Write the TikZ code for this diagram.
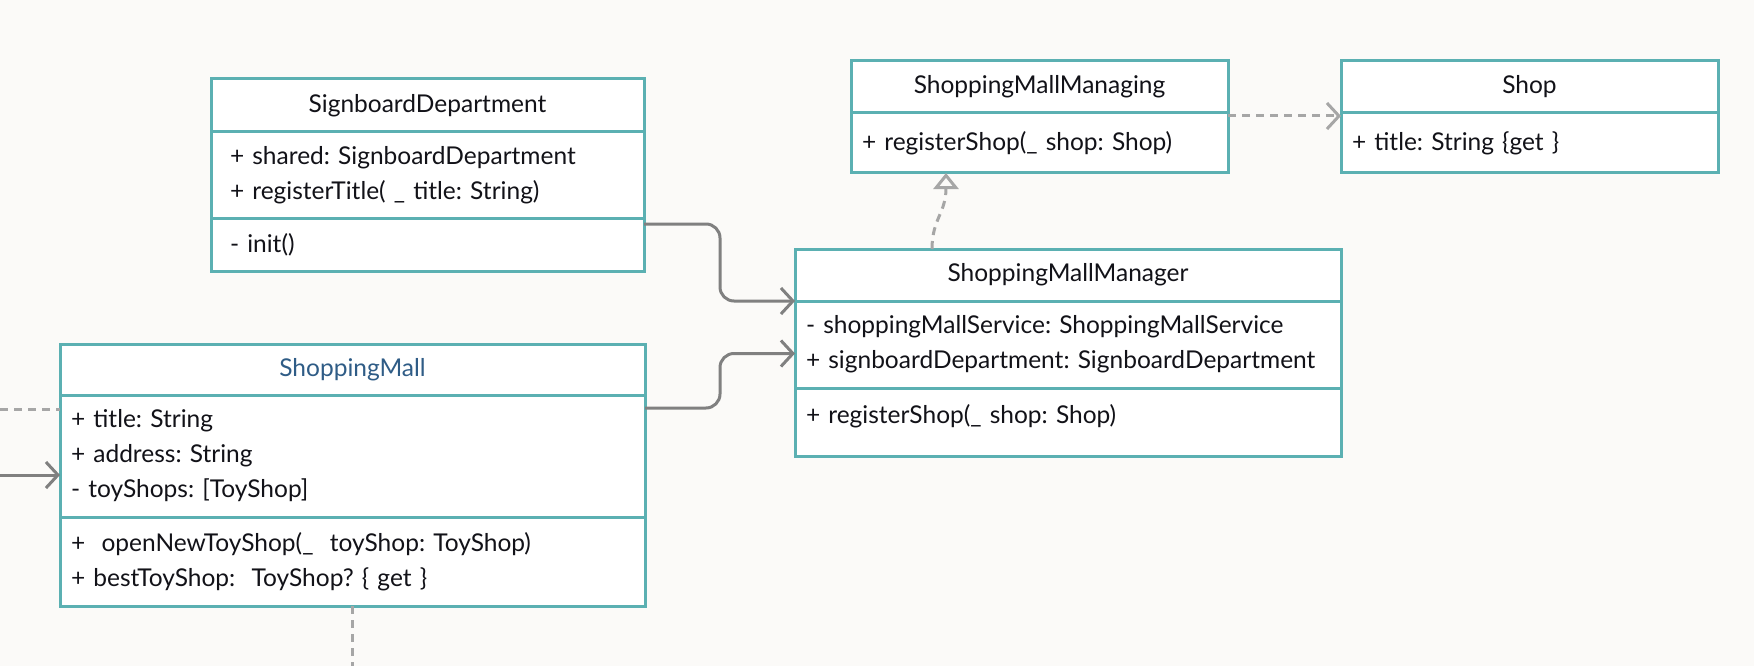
\documentclass[tikz,border=0pt]{standalone}
\usepackage{fontspec}
\setmainfont{Lato}
\frenchspacing
\usetikzlibrary{arrows.meta, positioning}
\definecolor{bgcol}{HTML}{FBFAF8}
\definecolor{umlteal}{HTML}{5BB0B2}
\definecolor{mallblue}{HTML}{2F5C86}
\definecolor{linegray}{HTML}{808080}
\definecolor{dashgray}{HTML}{A6A6A6}
\definecolor{textcol}{HTML}{121218}
\tikzstyle{cls} = [draw=umlteal, fill=white, line width=3pt, inner sep=0pt, outer sep=0pt, anchor=north west]
\tikzstyle{part} = [cls, inner xsep=11pt, align=left]
\tikzstyle{assoc} = [draw=linegray, line width=3pt, rounded corners=14pt, -{Straight Barb[length=12pt, width=26pt]}]
\tikzstyle{depline} = [draw=dashgray, line width=3pt, dash pattern=on 8pt off 6pt]
\tikzstyle{dep} = [depline, -{Straight Barb[length=12pt, width=26pt]}]
\tikzstyle{real} = [depline, -{Triangle[open, length=16pt, width=25pt]}]

\begin{document}
\begin{tikzpicture}[x=1pt, y=-1pt, text=textcol, font=\fontsize{24.5}{35}\selectfont]
    \fill[bgcol, use as bounding box] (0,0) rectangle (1754,666);

    % SignboardDepartment
    \node[cls, minimum width=433pt, minimum height=53pt] (sdT) at (211,79) {SignboardDepartment};
    \node[part, inner xsep=19pt, text width=395pt, minimum height=86pt] (sdA) at (211,132)
        {+ shared: SignboardDepartment\\+ registerTitle( \_ title: String)};
    \node[part, inner xsep=19pt, text width=395pt, minimum height=53pt] (sdM) at (211,218) {- init()};

    % ShoppingMallManaging
    \node[cls, minimum width=377pt, minimum height=52pt] (smgT) at (851,61) {ShoppingMallManaging};
    \node[part, text width=355pt, minimum height=60pt] (smgA) at (851,113) {+ registerShop(\_ shop: Shop)};

    % Shop
    \node[cls, minimum width=377pt, minimum height=52pt] (shopT) at (1341,61) {Shop};
    \node[part, text width=355pt, minimum height=60pt] (shopA) at (1341,113) {+ title: String \{get \}};

    % ShoppingMall
    \node[cls, minimum width=585pt, minimum height=51pt, text=mallblue] (smT) at (60,344) {ShoppingMall};
    \node[part, text width=563pt, minimum height=122pt] (smA) at (60,395)
        {+ title: String\\+ address: String\\- toyShops: [ToyShop]};
    \node[part, text width=563pt, minimum height=89pt] (smM) at (60,517)
        {+\ \ openNewToyShop(\_\ \ toyShop: ToyShop)\\+ bestToyShop:\ \ ToyShop? \{ get \}};

    % ShoppingMallManager
    \node[cls, minimum width=546pt, minimum height=52pt] (mgrT) at (795,249) {ShoppingMallManager};
    \node[part, text width=524pt, minimum height=87pt] (mgrA) at (795,301)
        {- shoppingMallService: ShoppingMallService\\+ signboardDepartment: SignboardDepartment};
    \node[part, text width=524pt, text depth=17pt, minimum height=68pt] (mgrM) at (795,388) {+ registerShop(\_ shop: Shop)};

    % connectors
    \draw[assoc] ([yshift=-6pt]sdM.north east) -- ++(76,0) |- (mgrT.south west);
    \draw[assoc] ([yshift=-13pt]smA.north east) -- ++(75,0) |- ([yshift=-9pt]mgrA.west);
    \draw[real] ([xshift=137pt]mgrT.north west) .. controls +(0,-30) and +(0,40) .. ([xshift=95pt]smgA.south west);
    \draw[dep] ([yshift=-3pt]smgA.north east) -- ([yshift=-3pt]shopA.north west);

    \coordinate (inL) at (0,409);
    \coordinate (inR) at (0,475);
    \coordinate (outB) at (352,666);
    \draw[depline] (inL) -- (inL -| smA.west);
    \draw[assoc] (inR) -- (inR -| smA.west);
    \draw[depline] (smM.south) -- (smM.south |- outB);
\end{tikzpicture}
\end{document}
